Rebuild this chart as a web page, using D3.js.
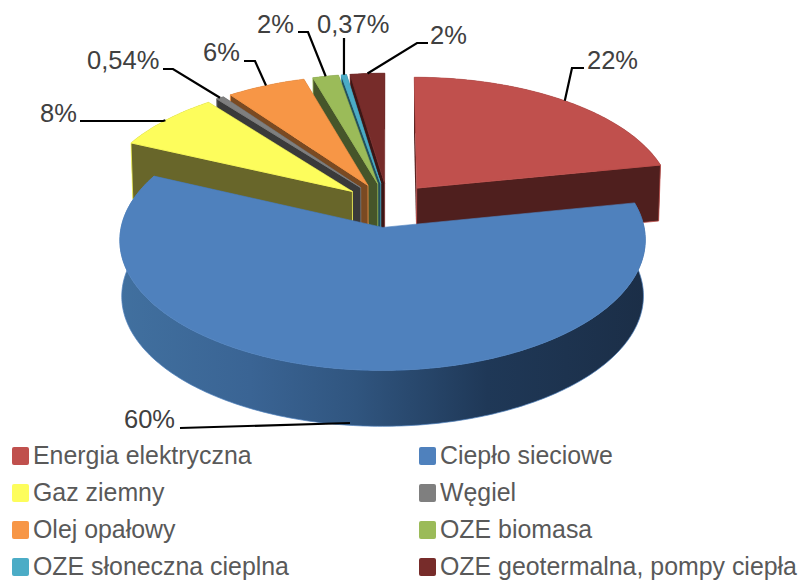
<!DOCTYPE html>
<html><head><meta charset="utf-8">
<script src="https://cdn.jsdelivr.net/npm/d3@7"></script>
<style>html,body{margin:0;padding:0;background:#fff}svg{display:block}</style>
</head><body><div id="chart"></div>
<script>
const categories = ["Energia elektryczna","Ciepło sieciowe","Gaz ziemny","Węgiel","Olej opałowy","OZE biomasa","OZE słoneczna cieplna","OZE geotermalna, pompy ciepła"];
const values = [21.9,59.9,7.6,0.54,5.5,1.8,0.37,2.4];
const valueLabels = ["22%","60%","8%","0,54%","6%","2%","0,37%","2%"];
const topColors = ["#c0504d","#4f81bd","#fdfd5c","#7f7f7f","#f79646","#9bbb59","#4bacc6","#772c2a"];
const wallColors = ["#4f1f1e","#2c4d75","#68662a","#3a3a3a","#7a4a22","#46552a","#23505c","#3c1615"];
const drawOrder = [0,7,6,5,4,3,2,1];
// leader layout: elbows then the label anchor
const leaderElbows = [[[572,68],[584,68]],[[180,428]],[[163,121],[80,121]],[[173,69],[163,69]],[[255,61],[244,61]],[[308,32],[298,32]],[[344,38]],[[417,43],[428,43]]];
const labelAnchors = [[587,69],[124,428],[40,122],[87,69],[203,61],[257,33],[317,33],[430,44]];

const W=800,H=580;
const svg=d3.select("#chart").append("svg").attr("width",W).attr("height",H).attr("viewBox",[0,0,W,H]);
const font="'Liberation Sans',Arial,sans-serif";
const gx=388,gy=205,Rx=257,Ry=124.6,k=0.096,explode=0.178,depth=56,baseShrink=0.993;

function project(theta,mid,r,bottom){
  const px=r*Math.sin(theta)+explode*Math.sin(mid);
  const py=r*Math.cos(theta)+explode*Math.cos(mid);
  const w=1+k*py;
  const x=Rx*px/w, y=-Ry*py/w;
  return bottom?[gx+x*baseShrink,gy+y+depth]:[gx+x,gy+y];
}
const line=d3.line().curve(d3.curveLinear);
const pie=d3.pie().sort(null).startAngle(0).endAngle(2*Math.PI)(values);
function arcPts(d,bottom){
  const mid=(d.startAngle+d.endAngle)/2, n=Math.max(4,Math.ceil((d.endAngle-d.startAngle)*60));
  return d3.range(n+1).map(i=>project(d.startAngle+(d.endAngle-d.startAngle)*i/n,mid,1,bottom));
}
const defs=svg.append("defs");
const grad=defs.append("linearGradient").attr("id","rim").attr("gradientUnits","userSpaceOnUse").attr("x1",119).attr("x2",645).attr("y1",0).attr("y2",0);
[[0,"#41709f"],[0.25,"#3a6494"],[0.45,"#30557f"],[0.7,"#1f3857"],[1,"#1b2e47"]].forEach(s=>grad.append("stop").attr("offset",s[0]).attr("stop-color",s[1]));

const slices=svg.append("g");
drawOrder.forEach(i=>{
  const d=pie[i], mid=(d.startAngle+d.endAngle)/2;
  const g=slices.append("g");
  const topArc=arcPts(d,false), botArc=arcPts(d,true);
  const apexT=project(0,mid,0,false), apexB=project(0,mid,0,true);
  const startWall=[apexT,topArc[0],botArc[0],apexB];
  const endWall=[apexT,topArc[topArc.length-1],botArc[botArc.length-1],apexB];
  const hidden=i===0?startWall:endWall, shown=i===0?endWall:startWall;
  g.append("path").attr("d",line(hidden)+"Z").attr("fill",wallColors[i]);
  g.append("path").attr("d",line(topArc.concat(botArc.slice().reverse()))+"Z")
    .attr("fill",i===1?"url(#rim)":wallColors[i]).attr("stroke",i===1?topColors[1]:"none").attr("stroke-width",0.7);
  if(i!==1) g.append("path").attr("d",line(shown)+"Z").attr("fill",wallColors[i]).attr("stroke",topColors[i]).attr("stroke-width",0.8);
  g.append("path").attr("d",line([apexT].concat(topArc))+"Z").attr("fill",topColors[i]).attr("stroke",topColors[i]).attr("stroke-width",0.6);
});

// leaders
pie.forEach((d,i)=>{
  const mid=(d.startAngle+d.endAngle)/2;
  const start=i===1?[350,423]:project(mid,mid,1,false);
  svg.append("path").attr("d",line([start].concat(leaderElbows[i]))).attr("fill","none").attr("stroke","#000").attr("stroke-width",2.2);
  svg.append("text").attr("x",labelAnchors[i][0]).attr("y",labelAnchors[i][1]).attr("font-family",font).attr("font-size",25.5).attr("fill","#404040").text(valueLabels[i]);
});

// legend
const colX=d3.scaleOrdinal().domain([0,1]).range([12,419]);
const rowY=d3.scaleLinear().domain([0,3]).range([464,575]);
categories.forEach((c,i)=>{
  const col=i%2,row=Math.floor(i/2),x=colX(col),y=rowY(row);
  svg.append("rect").attr("x",x).attr("y",y-17).attr("width",17).attr("height",18).attr("rx",2).attr("fill",topColors[i]);
  svg.append("text").attr("x",x+21).attr("y",y).attr("font-family",font).attr("font-size",24.9).attr("fill","#595959").text(c);
});
</script></body></html>
